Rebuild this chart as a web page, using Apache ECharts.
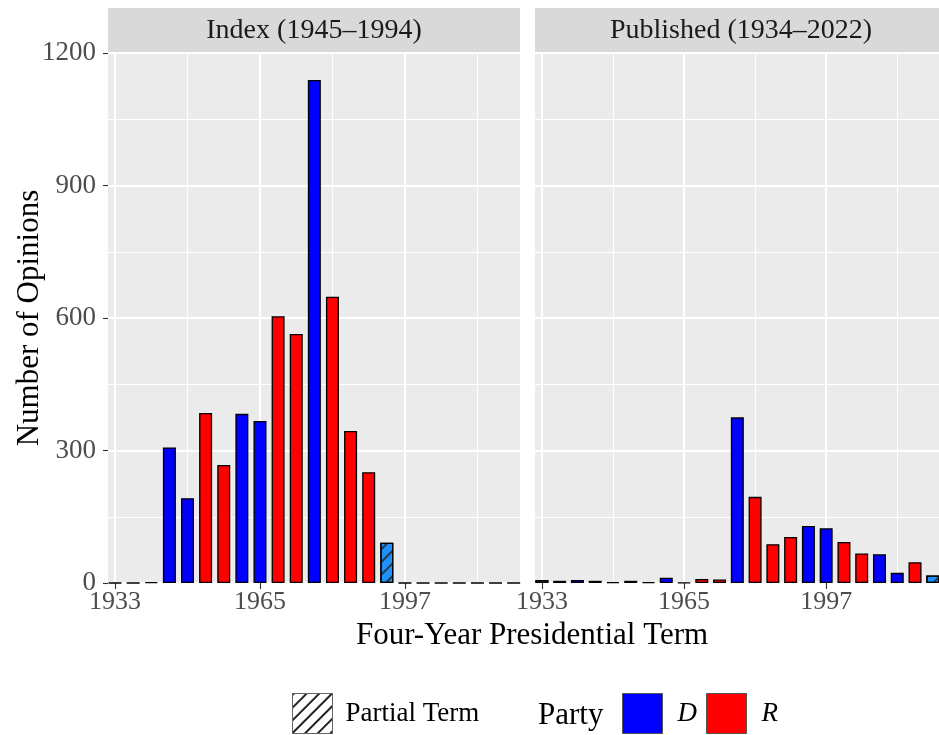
<!DOCTYPE html>
<html>
<head>
<meta charset="utf-8">
<script src="https://cdn.jsdelivr.net/npm/echarts@6/dist/echarts.min.js"></script>
<style>
html, body { margin: 0; padding: 0; background: #fff; }
#chart { width: 939px; height: 735px; }
</style>
</head>
<body>
<div id="chart"></div>
<script>
// Start year of each four-year presidential term
const terms = [1933, 1937, 1941, 1945, 1949, 1953, 1957, 1961, 1965, 1969, 1973, 1977,
               1981, 1985, 1989, 1993, 1997, 2001, 2005, 2009, 2013, 2017, 2021];
// Party of the president for each term
const termParty = ['D', 'D', 'D', 'D', 'D', 'R', 'R', 'D', 'D', 'R', 'R', 'D',
                   'R', 'R', 'R', 'D', 'D', 'R', 'R', 'D', 'D', 'R', 'D'];
// Number of opinions per term
const indexCounts = [0, 0, 2, 307, 192, 385, 267, 383, 367, 604, 564, 1139,
                     648, 344, 251, 91, 0, 0, 0, 0, 0, 0, 0];
const publishedCounts = [7, 5, 7, 5, 2, 5, 2, 12, 1, 9, 8, 375,
                         195, 88, 104, 129, 124, 93, 67, 65, 23, 47, 17];
// Terms only partly covered by each collection
const indexPartialTerms = [1993];
const publishedPartialTerms = [1933, 2021];

const panelTitles = ['Index (1945–1994)', 'Published (1934–2022)'];
const xMajorTicks = [1933, 1965, 1997];
const xMinorTicks = [1949, 1981, 2013];

const FONT = '"Liberation Serif", "Times New Roman", serif';
const X_MIN = 1931.45, X_MAX = 2022.4;
const PARTY_COLORS = { D: '#0000FF', R: '#FF0000' };
const PARTIAL_COLOR = '#1E90FF';
const hatch = (color) => ({
  symbol: 'rect', symbolSize: 1, color: color,
  dashArrayX: [1, 0], dashArrayY: [2, 7], rotation: -Math.PI / 4
});

const panels = [
  { left: 108, counts: indexCounts, partial: indexPartialTerms },
  { left: 535, counts: publishedCounts, partial: publishedPartialTerms }
];
const PANEL_W = 412, PANEL_TOP = 53, PANEL_H = 530;

const grids = [], xAxes = [], yAxes = [], series = [], graphics = [];

panels.forEach((p, k) => {
  grids.push({ left: p.left, top: PANEL_TOP, width: PANEL_W, height: PANEL_H,
               show: true, backgroundColor: '#EBEBEB', borderWidth: 0 });

  // major grid lines, ticks and labels
  xAxes.push({
    type: 'value', gridIndex: k, min: X_MIN, max: X_MAX,
    axisLine: { show: false },
    axisTick: { show: true, customValues: xMajorTicks, length: 6, lineStyle: { color: '#333', width: 1.1 } },
    axisLabel: { show: true, customValues: xMajorTicks, color: '#4D4D4D', fontSize: 26,
                 fontFamily: FONT, margin: 6, formatter: v => String(v) },
    splitLine: { show: true, lineStyle: { color: '#FFFFFF', width: 2 } }
  });
  // minor grid lines
  xAxes.push({
    type: 'value', gridIndex: k, min: X_MIN, max: X_MAX,
    axisLine: { show: false },
    axisTick: { show: false, customValues: xMinorTicks },
    axisLabel: { show: false },
    splitLine: { show: true, lineStyle: { color: '#FFFFFF', width: 1 } }
  });

  yAxes.push({
    type: 'value', gridIndex: k, min: 0, max: 1200, interval: 300,
    axisLine: { show: false },
    axisTick: { show: k === 0, length: 5, lineStyle: { color: '#333', width: 1.1 } },
    axisLabel: { show: k === 0, color: '#4D4D4D', fontSize: 27, fontFamily: FONT, margin: 12,
                 formatter: v => String(v) },
    splitLine: { show: true, lineStyle: { color: '#FFFFFF', width: 2 } },
    minorTick: { show: false, splitNumber: 2 },
    minorSplitLine: { show: true, lineStyle: { color: '#FFFFFF', width: 1 } },
    name: k === 0 ? 'Number of Opinions' : '',
    nameLocation: 'middle', nameRotate: 90, nameGap: 63, nameMoveOverlap: false,
    nameTextStyle: { fontSize: 31, fontFamily: FONT, color: '#000' }
  });

  const pick = (test) => terms.map((t, i) => (test(t, i) ? [t, p.counts[i]] : null)).filter(Boolean);
  const common = {
    type: 'bar', xAxisIndex: 2 * k, yAxisIndex: k, barWidth: 13, barGap: '-100%',
    emphasis: { disabled: true }
  };
  ['D', 'R'].forEach(party => {
    series.push(Object.assign({}, common, {
      name: party,
      itemStyle: { color: PARTY_COLORS[party], borderColor: '#000', borderWidth: 1.3 },
      data: pick((t, i) => termParty[i] === party && p.partial.indexOf(t) < 0)
    }));
  });
  series.push(Object.assign({}, common, {
    name: 'Partial Term',
    itemStyle: { color: PARTIAL_COLOR, borderColor: '#000', borderWidth: 1.3, decal: hatch('rgba(40,40,40,0.85)') },
    data: pick(t => p.partial.indexOf(t) >= 0)
  }));

  // facet strip
  graphics.push({ type: 'rect', silent: true,
    shape: { x: p.left, y: 8, width: PANEL_W, height: 45 }, style: { fill: '#D9D9D9' } });
  graphics.push({ type: 'text', silent: true, x: p.left + PANEL_W / 2, y: 31,
    style: { text: panelTitles[k], font: '28px ' + FONT, fill: '#1A1A1A',
             align: 'center', verticalAlign: 'middle' } });
});

const chart = echarts.init(document.getElementById('chart'), null, { renderer: 'canvas' });
chart.setOption({
  animation: false,
  aria: { enabled: false },
  grid: grids,
  xAxis: xAxes,
  yAxis: yAxes,
  series: series,
  graphic: graphics,
  title: [
    { text: 'Four-Year Presidential Term', left: 527, top: 615, textAlign: 'center',
      textStyle: { fontSize: 31, fontWeight: 'normal', fontFamily: FONT, color: '#000' } },
    { text: 'Party', left: 533, top: 695,
      textStyle: { fontSize: 31, fontWeight: 'normal', fontFamily: FONT, color: '#000' } }
  ],
  legend: [
    {
      data: [{ name: 'Partial Term', icon: 'rect',
               itemStyle: { color: '#FFFFFF', borderColor: '#666', borderWidth: 1, decal: hatch('#222') } }],
      left: 292, top: 693, padding: 0, itemWidth: 40, itemHeight: 40, selectedMode: false,
      textStyle: { fontSize: 27, fontFamily: FONT, color: '#000', padding: [0, 0, 0, 8] }
    },
    {
      data: [{ name: 'D', icon: 'rect', itemStyle: { borderColor: '#555', borderWidth: 1 } },
             { name: 'R', icon: 'rect', itemStyle: { borderColor: '#555', borderWidth: 1 } }],
      left: 622, top: 693, padding: 0, itemWidth: 40, itemHeight: 40, itemGap: 9, selectedMode: false,
      textStyle: { fontSize: 27, fontStyle: 'italic', fontFamily: FONT, color: '#000', padding: [0, 0, 0, 10] }
    }
  ]
});
</script>
</body>
</html>
